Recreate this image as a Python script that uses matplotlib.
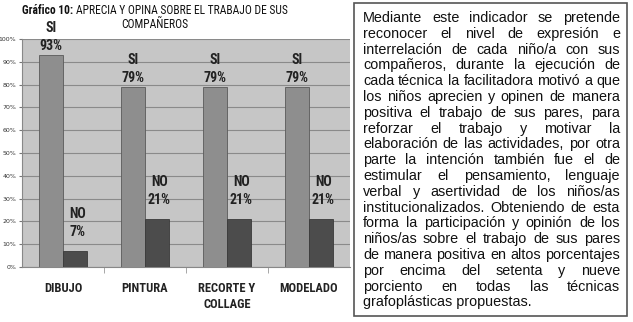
import matplotlib
matplotlib.use("Agg")
import matplotlib.pyplot as plt
from matplotlib.patches import Rectangle
import numpy as np

# --- datos ---
categorias = ["DIBUJO", "PINTURA", "RECORTE Y\nCOLLAGE", "MODELADO"]
si_vals = [93, 79, 79, 79]
no_vals = [7, 21, 21, 21]
y_ticks = list(range(0, 101, 10))

texto_lineas = [
    "Mediante este indicador se pretende",
    "reconocer el nivel de expresión e",
    "interrelación de cada niño/a con sus",
    "compañeros, durante la ejecución de",
    "cada técnica la facilitadora motivó a que",
    "los niños aprecien y opinen de manera",
    "positiva el trabajo de sus pares, para",
    "reforzar el trabajo y motivar la",
    "elaboración de las actividades, por otra",
    "parte la intención también fue el de",
    "estimular el pensamiento, lenguaje",
    "verbal y asertividad de los niños/as",
    "institucionalizados. Obteniendo de esta",
    "forma la participación y opinión de los",
    "niños/as sobre el trabajo de sus pares",
    "de manera positiva en altos porcentajes",
    "por encima del setenta y nueve",
    "porciento en todas las técnicas",
    "grafoplásticas propuestas.",
]

NARROW = ["Roboto Condensed", "DejaVu Sans"]
ARIAL = ["Liberation Sans", "DejaVu Sans"]
W, H = 633, 322
fig = plt.figure(figsize=(W / 100, H / 100), dpi=100)
fig.patch.set_facecolor("white")
renderer = fig.canvas.get_renderer()

# --- grafico de barras ---
ax = fig.add_axes([22 / W, 1 - 267 / H, 328 / W, 228 / H])
ax.set_facecolor("#c6c6c6")
x = np.arange(len(categorias))
bw = 0.29
b_si = ax.bar(x - bw / 2, si_vals, bw, color="#8e8e8e", edgecolor="#5a5a5a", linewidth=0.6, zorder=3)
b_no = ax.bar(x + bw / 2, no_vals, bw, color="#4c4c4c", edgecolor="#3a3a3a", linewidth=0.6, zorder=3)

for r, v in zip(b_si, si_vals):
    ax.text(r.get_x() + r.get_width() / 2, v + 0.8, f"SI\n{v}%", ha="center", va="bottom",
            fontsize=10, fontweight="bold", family=NARROW, color="#222222", linespacing=1.35)
for r, v in zip(b_no, no_vals):
    ax.text(r.get_x() + r.get_width() / 2 + 0.03, v + 5.5, f"NO\n{v}%", ha="center", va="bottom",
            fontsize=10, fontweight="bold", family=NARROW, color="#222222", linespacing=1.35)

ax.set_xlim(-0.5, len(categorias) - 0.5)
ax.set_ylim(0, 100)
ax.set_yticks(y_ticks)
ax.set_yticklabels([f"{t}%" for t in y_ticks], fontsize=4.5, color="#333333")
ax.yaxis.grid(True, color="#8a8a8a", linewidth=0.8, zorder=0)
ax.tick_params(axis="y", length=2, pad=2, color="#777777")
ax.set_xticks(x)
ax.set_xticklabels(categorias, fontsize=9, fontweight="bold", family=NARROW, color="#222222", linespacing=1.25)
ax.tick_params(axis="x", length=0, pad=11)
ax.set_xticks(np.arange(0.5, len(categorias) - 0.5, 1), minor=True)
ax.tick_params(axis="x", which="minor", length=4, color="#999999")
for s in ["top", "right"]:
    ax.spines[s].set_visible(False)
ax.spines["left"].set_color("#888888")
ax.spines["bottom"].set_color("#888888")

# --- titulo ---
fs_t = 8.3
t1 = fig.text(22 / W, 1 - 10 / H, "Gráfico 10: ", fontsize=fs_t, fontweight="bold", family=NARROW,
              ha="left", va="center", color="#111111")
bb = t1.get_window_extent(renderer)
fig.text(bb.x1 / W, 1 - 10 / H, "APRECIA Y OPINA SOBRE EL TRABAJO DE SUS", fontsize=fs_t, family=NARROW,
         ha="left", va="center", color="#111111")
fig.text(155 / W, 1 - 24 / H, "COMPAÑEROS", fontsize=fs_t, family=NARROW, ha="center", va="center",
         color="#111111")

# --- cuadro de texto justificado ---
fig.patches.append(Rectangle((354 / W, 1 - 316 / H), 273 / W, 313 / H, transform=fig.transFigure,
                             facecolor="white", edgecolor="#555555", linewidth=1.2, zorder=1))
x0, x1 = 363, 620
y_top, y_step = 18, 15.8

# tamaño de letra tal que la linea mas larga llene el ancho
prueba = fig.text(0, 0, texto_lineas[4], fontsize=10, family=ARIAL)
fs = 10 * (x1 - x0) / prueba.get_window_extent(renderer).width
prueba.remove()

for i, linea in enumerate(texto_lineas):
    y = 1 - (y_top + i * y_step) / H
    palabras = linea.split(" ")
    if i == len(texto_lineas) - 1:
        fig.text(x0 / W, y, linea, fontsize=fs, family=ARIAL,
                 ha="left", va="center", color="#111111", zorder=2)
        continue
    objs = [fig.text(0, y, p, fontsize=fs, family=ARIAL,
                     ha="left", va="center", color="#111111", zorder=2) for p in palabras]
    anchos = [o.get_window_extent(renderer).width for o in objs]
    hueco = (x1 - x0 - sum(anchos)) / max(len(palabras) - 1, 1)
    cx = x0
    for o, a in zip(objs, anchos):
        o.set_x(cx / W)
        cx += a + hueco

fig.savefig("out.png", dpi=100)
